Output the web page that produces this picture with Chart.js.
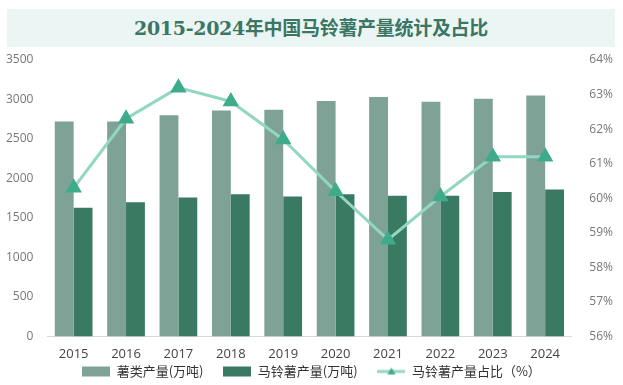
<!DOCTYPE html>
<html>
<head>
<meta charset="utf-8">
<script src="https://cdn.jsdelivr.net/npm/chart.js@4/dist/chart.umd.min.js"></script>
<style>
  html, body { margin: 0; padding: 0; background: #fff; overflow: hidden; }
  #wrap { position: relative; width: 623px; height: 385px; }
  #banner {
    position: absolute; left: 7px; top: 9px; width: 608px; height: 38px;
    background: #eaf5f4; color: #3b7563;
    font: bold 19px "DejaVu Serif", "Noto Sans CJK SC", serif;
    line-height: 38px; text-align: center; letter-spacing: -0.3px;
  }
</style>
</head>
<body>
<div id="wrap">
  <div id="banner">2015-2024年中国马铃薯产量统计及占比</div>
  <canvas id="chart" width="623" height="385"></canvas>
</div>
<script>
const years = ['2015', '2016', '2017', '2018', '2019', '2020', '2021', '2022', '2023', '2024'];
const tuberOutput = [2720, 2720, 2800, 2860, 2870, 2980, 3030, 2970, 3010, 3050];
const potatoOutput = [1630, 1700, 1760, 1800, 1770, 1800, 1780, 1780, 1830, 1860];
const potatoShare = [60.3, 62.3, 63.2, 62.8, 61.7, 60.2, 58.8, 60.05, 61.2, 61.2];

const LIGHT = '#7ea296';
const DARK = '#3a7a63';
const LINE = '#93d6c2';
const MARK = '#3eac8a';

function makeIcon(kind) {
  const c = document.createElement('canvas');
  c.width = 28; c.height = 12;
  const g = c.getContext('2d');
  if (kind === 'line') {
    g.strokeStyle = LINE; g.lineWidth = 3;
    g.beginPath(); g.moveTo(0, 6); g.lineTo(28, 6); g.stroke();
    g.fillStyle = MARK;
    g.beginPath(); g.moveTo(14, 2); g.lineTo(18, 9); g.lineTo(10, 9); g.closePath(); g.fill();
  } else {
    g.fillStyle = kind === 'light' ? LIGHT : DARK;
    g.fillRect(0, 1, 28, 10);
  }
  return c;
}
const icons = [makeIcon('light'), makeIcon('dark'), makeIcon('line')];
// order of legend entries: bars first, then the line
const legendOrder = [1, 2, 0];

const ctx = document.getElementById('chart').getContext('2d');
new Chart(ctx, {
  data: {
    labels: years,
    datasets: [
      {
        type: 'line', label: '马铃薯产量占比（%）', data: potatoShare, yAxisID: 'y1',
        borderColor: LINE, borderWidth: 3, pointStyle: 'triangle', pointRadius: 6.5,
        pointBackgroundColor: MARK, pointBorderColor: MARK, tension: 0, order: 0
      },
      {
        type: 'bar', label: '薯类产量(万吨)', data: tuberOutput, yAxisID: 'y',
        backgroundColor: LIGHT, categoryPercentage: 0.72, barPercentage: 1, order: 1
      },
      {
        type: 'bar', label: '马铃薯产量(万吨)', data: potatoOutput, yAxisID: 'y',
        backgroundColor: DARK, categoryPercentage: 0.72, barPercentage: 1, order: 1
      }
    ]
  },
  options: {
    responsive: false,
    animation: false,
    layout: { padding: { top: 60, left: 0, right: 0, bottom: -3 } },
    plugins: {
      tooltip: { enabled: false },
      legend: {
        position: 'bottom',
        labels: {
          usePointStyle: true,
          pointStyleWidth: 28,
          boxHeight: 12,
          padding: 1,
          color: '#333',
          font: { size: 13, family: '"Noto Sans CJK SC", sans-serif' },
          sort: (a, b) => legendOrder.indexOf(a.datasetIndex) - legendOrder.indexOf(b.datasetIndex),
          generateLabels: chart => chart.data.datasets.map((ds, i) => ({
            // bar entries get a trailing gap before the next legend item
            text: i === 0 ? ds.label : ds.label + '\u3000  ',
            datasetIndex: i,
            pointStyle: icons[i === 0 ? 2 : i - 1],
            fillStyle: 'transparent', strokeStyle: 'transparent', lineWidth: 0,
            fontColor: '#333'
          }))
        }
      }
    },
    scales: {
      x: {
        grid: { display: false },
        border: { color: '#d9d9d9' },
        ticks: { color: '#444', font: { size: 13, family: '"Open Sans", sans-serif' }, padding: 2 }
      },
      y: {
        position: 'left', min: 0, max: 3500,
        grid: { display: false }, border: { display: false },
        ticks: { stepSize: 500, color: '#777', font: { size: 12, family: '"Open Sans", sans-serif' }, padding: 6, callback: v => String(v) }
      },
      y1: {
        position: 'right', min: 56, max: 64,
        grid: { display: false }, border: { display: false },
        ticks: { stepSize: 1, color: '#777', font: { size: 12, family: '"Open Sans", sans-serif' }, padding: 10, callback: v => v + '%' }
      }
    }
  }
});
</script>
</body>
</html>
